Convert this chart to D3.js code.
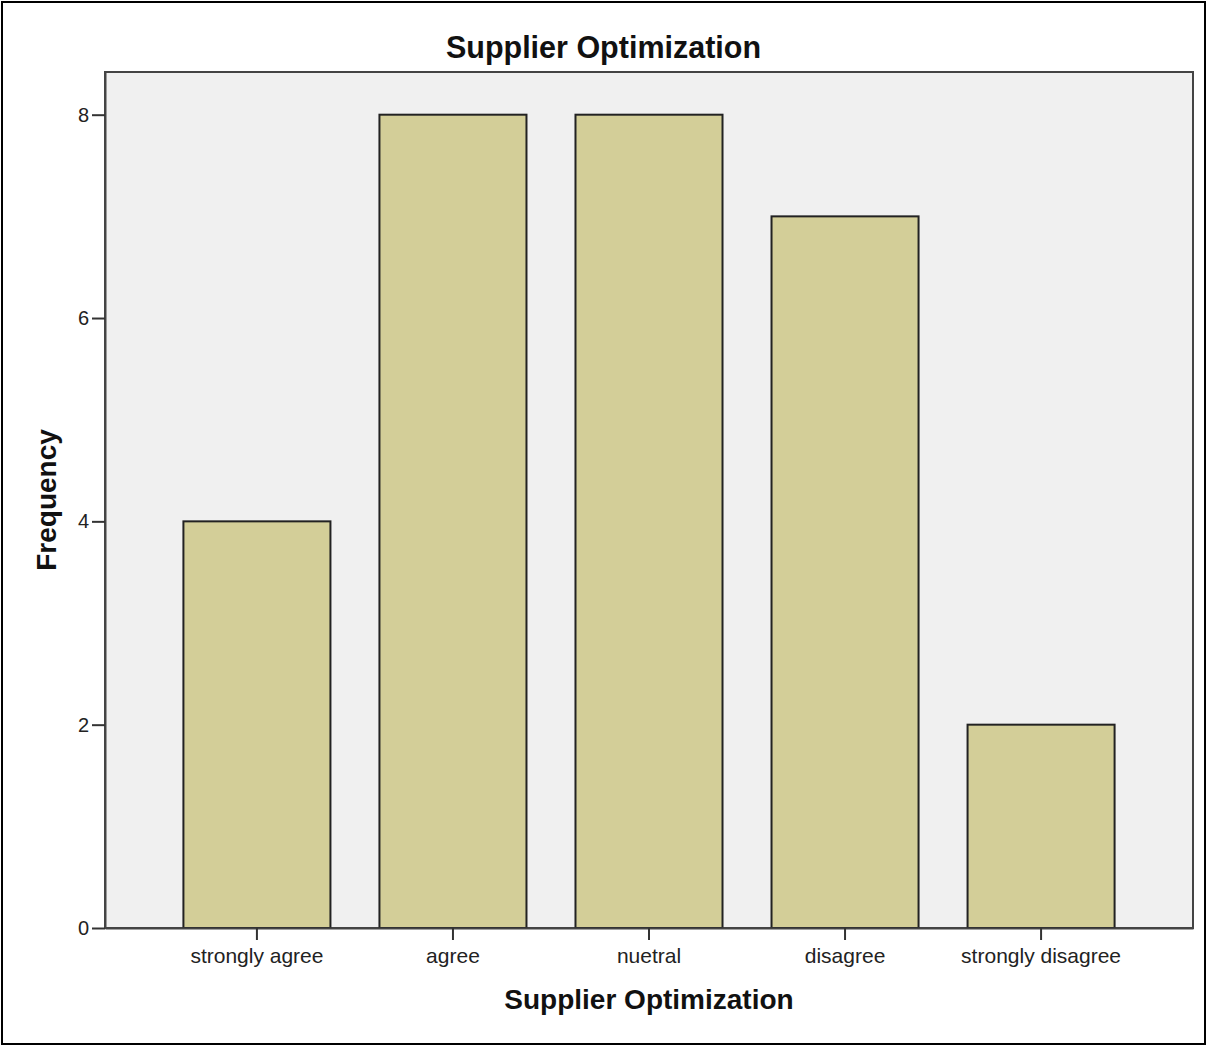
<!DOCTYPE html>
<html>
<head>
<meta charset="utf-8">
<script src="https://cdn.jsdelivr.net/npm/d3@7"></script>
<style>
  html, body { margin: 0; padding: 0; background: #ffffff; }
  svg { display: block; }
  text { font-family: "Liberation Sans", Arial, sans-serif; }
</style>
</head>
<body>
<svg id="chart" width="1207" height="1046"></svg>
<script>
// Response categories and their frequencies
const categories = ["strongly agree", "agree", "nuetral", "disagree", "strongly disagree"];
const frequencies = [4, 8, 8, 7, 2];
const yTickValues = [0, 2, 4, 6, 8];

const chartTitle = "Supplier Optimization";
const xTitle = "Supplier Optimization";
const yTitle = "Frequency";

const W = 1207, H = 1046;
const plot = { left: 105, top: 72, right: 1193, bottom: 928 };

const svg = d3.select("#chart");

// outer frame
svg.append("rect")
  .attr("x", 2).attr("y", 2)
  .attr("width", W - 4).attr("height", H - 4)
  .attr("fill", "#ffffff")
  .attr("stroke", "#000000")
  .attr("stroke-width", 2);

const x = d3.scaleBand()
  .domain(categories)
  .range([plot.left, plot.right])
  .paddingInner(0.25)
  .paddingOuter(0.4);

const y = d3.scaleLinear()
  .domain([0, 8.42])
  .range([plot.bottom, plot.top]);

// plot background
svg.append("rect")
  .attr("x", plot.left).attr("y", plot.top)
  .attr("width", plot.right - plot.left)
  .attr("height", plot.bottom - plot.top)
  .attr("fill", "#f0f0f0")
  .attr("stroke", "#444444")
  .attr("stroke-width", 2);

// bars
svg.append("g")
  .selectAll("rect")
  .data(categories.map((c, i) => ({ c, v: frequencies[i] })))
  .join("rect")
  .attr("x", d => x(d.c))
  .attr("y", d => y(d.v))
  .attr("width", x.bandwidth())
  .attr("height", d => y(0) - y(d.v))
  .attr("fill", "#d3ce98")
  .attr("stroke", "#222222")
  .attr("stroke-width", 2);

// y axis
const yAxis = svg.append("g")
  .attr("transform", `translate(${plot.left},0)`)
  .call(d3.axisLeft(y).tickValues(yTickValues).tickSize(13).tickSizeOuter(0).tickPadding(3).tickFormat(d3.format("d")));
yAxis.select(".domain").attr("stroke", "#444444").attr("stroke-width", 2);
yAxis.selectAll(".tick line").attr("stroke", "#333333").attr("stroke-width", 2);
yAxis.selectAll(".tick text")
  .attr("fill", "#222222")
  .style("font-size", "20px")
  .style("font-family", "'Liberation Sans', Arial, sans-serif");

// x axis
const xAxis = svg.append("g")
  .attr("transform", `translate(0,${plot.bottom})`)
  .call(d3.axisBottom(x).tickSize(12).tickPadding(8).tickSizeOuter(0));
xAxis.select(".domain").attr("stroke", "#444444").attr("stroke-width", 2);
xAxis.selectAll(".tick line").attr("stroke", "#333333").attr("stroke-width", 2);
xAxis.selectAll(".tick text")
  .attr("fill", "#222222")
  .style("font-size", "21px")
  .style("font-family", "'Liberation Sans', Arial, sans-serif");

// titles
svg.append("text")
  .attr("x", W / 2).attr("y", 58)
  .attr("text-anchor", "middle")
  .style("font-size", "30.5px").style("font-weight", "bold")
  .attr("fill", "#111111")
  .text(chartTitle);

svg.append("text")
  .attr("x", (plot.left + plot.right) / 2).attr("y", 1009)
  .attr("text-anchor", "middle")
  .style("font-size", "28px").style("font-weight", "bold")
  .attr("fill", "#111111")
  .text(xTitle);

svg.append("text")
  .attr("transform", `translate(56,${(plot.top + plot.bottom) / 2}) rotate(-90)`)
  .attr("text-anchor", "middle")
  .style("font-size", "28px").style("font-weight", "bold")
  .attr("fill", "#111111")
  .text(yTitle);
</script>
</body>
</html>
